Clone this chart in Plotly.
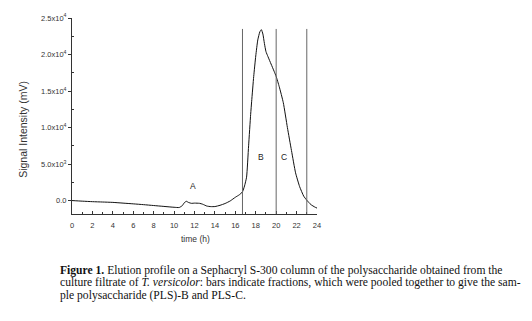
import plotly.graph_objects as go

# Elution profile data (time in h, signal in mV)
time_h = [0, 1, 2, 3, 4, 5, 6, 7, 8, 9, 10, 10.5, 10.8, 11.0, 11.2, 11.4, 11.7, 12.0, 12.5,
          12.8, 13.2, 13.6, 14.0, 14.5, 15.0, 15.5, 16.0, 16.4, 16.7, 16.9, 17.1, 17.3, 17.5,
          17.6, 17.8, 18.0, 18.2, 18.4, 18.55, 18.7, 18.85, 19.0, 19.2, 19.5, 19.8, 20.0,
          20.3, 20.7, 21.1, 21.5, 21.9, 22.3, 22.7, 23.0, 23.4, 23.8, 24.0]
signal_mv = [0, -80, -150, -200, -250, -350, -450, -560, -680, -800, -920, -950, -700, -300,
             -100, -250, -380, -350, -380, -500, -750, -830, -820, -650, -400, -50, 450, 800,
             1200, 2000, 3200, 7500, 11800, 13600, 17000, 19800, 22000, 23100, 23400, 22800,
             21500, 20400, 19700, 18700, 17700, 17000, 15600, 13400, 10000, 6850, 3800, 1900,
             600, 50, -550, -900, -1030]

# Fraction boundaries (bars)
fraction_bounds = [16.7, 20.0, 23.0]
bar_top = 23500

# Peak labels
peak_labels = ["A", "B", "C"]
peak_label_x = [11.9, 18.5, 20.8]
peak_label_y = [2050, 6000, 6000]

y_tickvals = [0, 5000, 10000, 15000, 20000, 25000]
y_ticktext = ["0.0", "5.0x10<sup>3</sup>", "1.0x10<sup>4</sup>", "1.5x10<sup>4</sup>",
              "2.0x10<sup>4</sup>", "2.5x10<sup>4</sup>"]
x_tickvals = [0, 2, 4, 6, 8, 10, 12, 14, 16, 18, 20, 22, 24]

caption_lines = [
    "<b>Figure 1.</b> Elution profile on a Sephacryl S-300 column of the polysaccharide obtained from the",
    "culture filtrate of <i>T. versicolor</i>: bars indicate fractions, which were pooled together to give the sam-",
    "ple polysaccharide (PLS)-B and PLS-C.",
]

W, H = 532, 321
L, R, T, B = 72, 215, 16, 107
PW, PH = W - L - R, H - T - B
Y_MIN, Y_MAX = -1840, 25000


def px2paper(px, py):
    return (px - L) / PW, (H - B - py) / PH


fig = go.Figure()
fig.add_trace(go.Scatter(x=time_h, y=signal_mv, mode="lines",
                         line=dict(color="#111111", width=1, shape="spline", smoothing=0.5),
                         showlegend=False, hoverinfo="skip"))

for xb in fraction_bounds:
    fig.add_shape(type="line", x0=xb, x1=xb, y0=Y_MIN, y1=bar_top, xref="x", yref="y",
                  line=dict(color="#666666", width=1))

for lab, lx, ly in zip(peak_labels, peak_label_x, peak_label_y):
    fig.add_annotation(x=lx, y=ly, text=lab, showarrow=False, xref="x", yref="y",
                       font=dict(family="Liberation Sans", size=8.5, color="#222222"))

ax, ay = px2paper(15, 129)
fig.add_annotation(x=ax, y=ay, xref="paper", yref="paper", text="Signal Intensity (mV)",
                   textangle=-90, showarrow=False,
                   font=dict(family="Liberation Sans", size=10.5, color="#333333"))
tx, ty = px2paper(195, 246)
fig.add_annotation(x=tx, y=ty, xref="paper", yref="paper", text="time (h)", showarrow=False,
                   font=dict(family="Liberation Sans", size=8.5, color="#333333"))

for i, (line, py) in enumerate(zip(caption_lines, [271, 283.5, 296])):
    cx, cy = px2paper(58, py)
    fig.add_annotation(x=cx, y=cy, xref="paper", yref="paper", text=line, showarrow=False,
                       xanchor="left", yanchor="middle",
                       font=dict(family="Liberation Serif", size=11.6, color="#111111"))

fig.update_layout(
    width=W, height=H, margin=dict(l=L, r=R, t=T, b=B),
    paper_bgcolor="white", plot_bgcolor="white",
    xaxis=dict(range=[0, 24], tickvals=x_tickvals, ticks="inside", ticklen=3,
               tickcolor="#333333", showline=True, linecolor="#333333", linewidth=1,
               showgrid=False, zeroline=False, ticklabelstandoff=4,
               tickfont=dict(family="Liberation Sans", size=7.5, color="#333333"),
               minor=dict(dtick=1, ticks="inside", ticklen=2, tickcolor="#333333")),
    yaxis=dict(range=[Y_MIN, Y_MAX], tickvals=y_tickvals, ticktext=y_ticktext,
               ticks="outside", ticklen=3, tickcolor="#333333", showline=True,
               linecolor="#333333", linewidth=1, showgrid=False, zeroline=False,
               tickfont=dict(family="Liberation Sans", size=7.5, color="#333333"),
               minor=dict(tickvals=[2500, 7500, 12500, 17500, 22500], ticks="inside",
                          ticklen=2, tickcolor="#333333")),
)

fig.write_html("out.html")
